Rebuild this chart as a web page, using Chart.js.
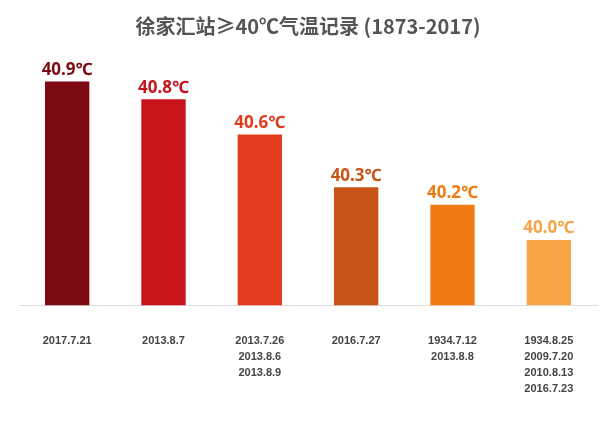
<!DOCTYPE html>
<html>
<head>
<meta charset="utf-8">
<script src="https://cdn.jsdelivr.net/npm/chart.js@4"></script>
<style>
  body { margin: 0; background: #fff; }
  #wrap { width: 607px; height: 423px; }
</style>
</head>
<body>
<div id="wrap"><canvas id="grafico"></canvas></div>
<script>
const fechas = [
  ["2017.7.21"],
  ["2013.8.7"],
  ["2013.7.26", "2013.8.6", "2013.8.9"],
  ["2016.7.27"],
  ["1934.7.12", "2013.8.8"],
  ["1934.8.25", "2009.7.20", "2010.8.13", "2016.7.23"]
];
const temperaturas = [40.9, 40.8, 40.6, 40.3, 40.2, 40.0];
const colores = ["#7d0a12", "#c8121c", "#e23c1e", "#c85417", "#f27a12", "#f6a445"];

// etiquetas de valor encima de cada barra
const etiquetas = {
  id: "etiquetas",
  afterDatasetsDraw(chart) {
    const ctx = chart.ctx;
    const meta = chart.getDatasetMeta(0);
    ctx.save();
    ctx.font = "bold 17px 'Noto Sans', sans-serif";
    ctx.textAlign = "center";
    ctx.textBaseline = "bottom";
    meta.data.forEach((bar, i) => {
      ctx.fillStyle = colores[i];
      ctx.fillText(temperaturas[i].toFixed(1) + "℃", bar.x, bar.y - 3);
    });
    ctx.restore();
  }
};

new Chart(document.getElementById("grafico"), {
  type: "bar",
  data: {
    labels: fechas,
    datasets: [{
      data: temperaturas,
      backgroundColor: colores,
      barPercentage: 0.46,
      categoryPercentage: 1
    }]
  },
  options: {
    responsive: true,
    maintainAspectRatio: false,
    animation: false,
    layout: { padding: { top: 10, left: 19, right: 10, bottom: 6 } },
    plugins: {
      legend: { display: false },
      tooltip: { enabled: false },
      title: {
        display: true,
        text: "徐家汇站≥40℃气温记录 (1873-2017)",
        color: "#555",
        font: { size: 20, family: "'Noto Sans CJK SC', sans-serif", weight: "bold" },
        padding: { top: 4, bottom: 26 }
      }
    },
    scales: {
      y: {
        display: false,
        min: 39.63,
        max: 41.0
      },
      x: {
        grid: { display: false },
        border: { color: "#ddd" },
        ticks: {
          color: "#444",
          font: { size: 11, family: "'Liberation Sans', sans-serif", weight: "bold", lineHeight: 1.45 },
          padding: 20,
          maxRotation: 0,
          autoSkip: false
        }
      }
    }
  },
  plugins: [etiquetas]
});
</script>
</body>
</html>
